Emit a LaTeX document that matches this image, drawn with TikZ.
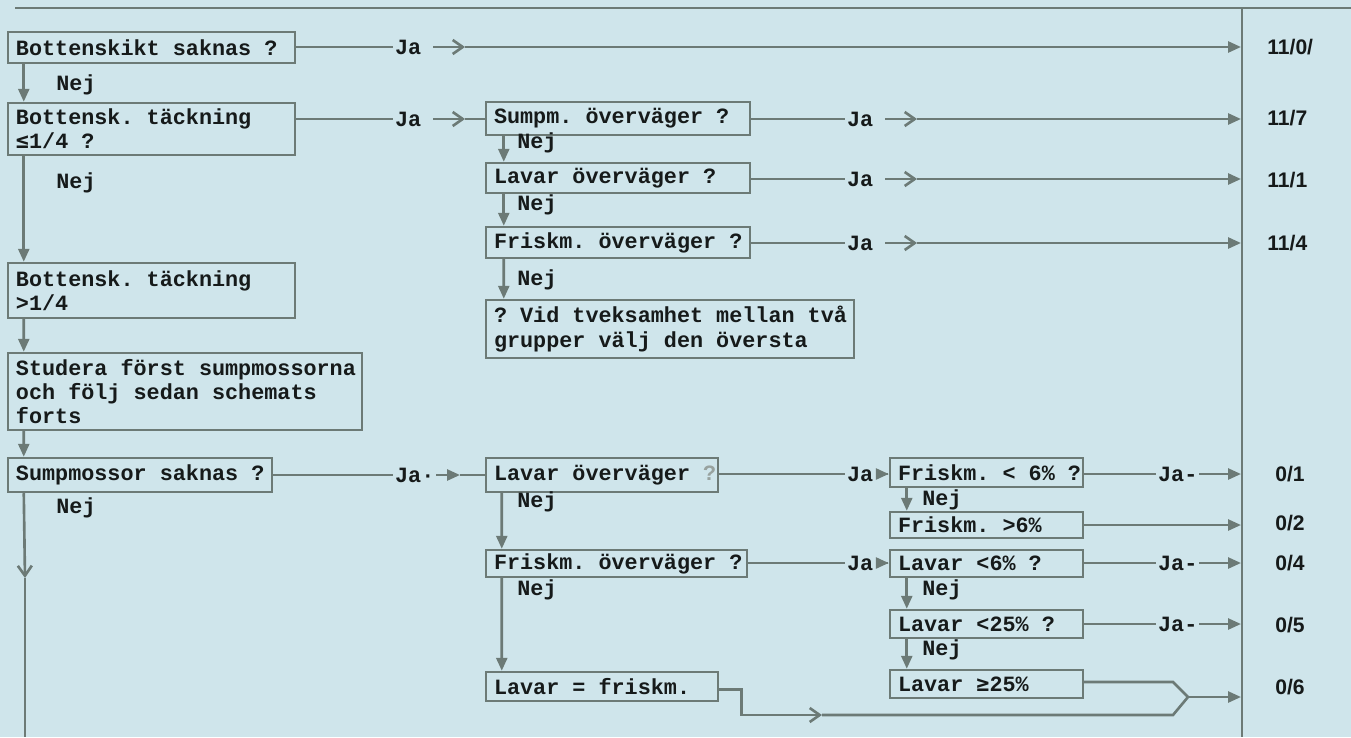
\documentclass[tikz,border=0pt]{standalone}
\usepackage{fontspec}
\usetikzlibrary{arrows.meta,calc}
\definecolor{bg}{RGB}{207,229,235}
\definecolor{lc}{RGB}{108,122,118}
\definecolor{tc}{RGB}{22,26,26}
\newfontfamily\boxf{Liberation Mono}
\newfontfamily\janf{Liberation Mono}
\newfontfamily\resf{Liberation Sans}
\newfontfamily\symf{DejaVu Sans Mono}
\newcommand\tws{\fontsize{12.4pt}{13.8pt}\selectfont}
\newcommand\sy[1]{{\symf\bfseries #1}}
\newcommand\tsp{\hbox to 0.6em{}}
\newcommand\mkbox[6]{%
  \pgfmathsetmacro\bxw{(#4-#2)*0.02}%
  \pgfmathsetmacro\bxh{(#5-#3)*0.02}%
  \pgfmathsetmacro\bxtw{(#4-#2)*0.02-0.32}%
  \pgfmathsetmacro\bxcx{(#2+#4)/2}%
  \pgfmathsetmacro\bxcy{(#3+#5)/2}%
  \node[bx, minimum width=\bxw cm, minimum height=\bxh cm, text width=\bxtw cm] (#1) at (\bxcx,\bxcy) {#6};%
}
\begin{document}
\begin{tikzpicture}[x=0.02cm,y=-0.02cm,
  bx/.style={draw=lc, line width=1.4pt, inner xsep=0.16cm, inner ysep=0pt, align=left, font=\boxf\bfseries\tws, text=tc},
  lab/.style={font=\janf\bfseries\tws, text=tc, inner sep=1pt},
  res/.style={font=\resf\bfseries\fontsize{12pt}{14pt}\selectfont, text=tc, anchor=west, inner sep=0pt},
  ln/.style={draw=lc, line width=1.5pt},
  arr/.style={ln, -{Triangle[length=0.26cm,width=0.22cm]}},
  chev/.style={ln, -{Straight Barb[length=0.2cm,width=0.28cm]}},
]
\fill[bg] (0,0) rectangle (1351,737);
\useasboundingbox (0,0) rectangle (1351,737);

% frame lines
\coordinate (tl) at (15,8);
\coordinate (tr) at (1351,8);
\coordinate (vt) at (1242,8);
\coordinate (vb) at (1242,737);
\draw[ln] (tl) -- (tr);
\draw[ln] (vt) -- (vb);

% boxes, left column
\mkbox{b1}{8}{32}{295}{63}{\mbox{Bottenskikt\tsp saknas\tsp ?}}
\mkbox{b2}{8}{103}{295}{155}{\mbox{Bottensk.\tsp täckning}\\\mbox{\sy{≤}1/4\tsp ?}}
\mkbox{b3}{8}{263}{295}{318}{\mbox{Bottensk.\tsp täckning}\\\mbox{>1/4}}
\mkbox{b4}{8}{353}{362}{430}{\mbox{Studera\tsp först\tsp sumpmossorna}\\\mbox{och\tsp följ\tsp sedan\tsp schemats}\\\mbox{forts}}
\mkbox{b5}{8}{458}{272}{492}{\mbox{Sumpmossor\tsp saknas\tsp ?}}
% middle column
\mkbox{m1}{486}{102}{750}{135}{\mbox{Sumpm.\tsp överväger\tsp ?}}
\mkbox{m2}{486}{163}{750}{193}{\mbox{Lavar\tsp överväger\tsp ?}}
\mkbox{m3}{486}{227}{750}{258}{\mbox{Friskm.\tsp överväger\tsp ?}}
\mkbox{m4}{486}{300}{854}{358}{\mbox{?\tsp Vid\tsp tveksamhet\tsp mellan\tsp två}\\\mbox{grupper\tsp välj\tsp den\tsp översta}}
\mkbox{m5}{486}{458}{718}{492}{\mbox{Lavar\tsp överväger\tsp {\color{lc!70}?}}}
\mkbox{m6}{486}{550}{747}{577}{\mbox{Friskm.\tsp överväger\tsp ?}}
\mkbox{m7}{486}{672}{718}{701}{\mbox{Lavar\tsp =\tsp friskm.}}
% right column
\mkbox{r1}{890}{458}{1083}{487}{\mbox{Friskm.\tsp <\tsp 6\%\tsp ?}}
\mkbox{r2}{890}{512}{1083}{538}{\mbox{Friskm.\tsp >6\%}}
\mkbox{r3}{890}{550}{1083}{577}{\mbox{Lavar\tsp <6\%\tsp ?}}
\mkbox{r4}{890}{610}{1083}{638}{\mbox{Lavar\tsp <25\%\tsp ?}}
\mkbox{r5}{890}{670}{1083}{698}{\mbox{Lavar\tsp \sy{≥}25\%}}

% Ja labels
\node[lab, anchor=west] (ja1) at (393,47) {Ja};
\node[lab, anchor=west] (ja2) at (393,119) {Ja};
\node[lab, anchor=west] (jm1) at (845,119) {Ja};
\node[lab, anchor=west] (jm2) at (845,179) {Ja};
\node[lab, anchor=west] (jm3) at (845,243) {Ja};
\node[lab, anchor=west] (ja5) at (393,475) {Ja·};
\node[lab, anchor=west] (jm5) at (845,474) {Ja·};
\node[lab, anchor=west] (jm6) at (845,563) {Ja·};
\node[lab, anchor=west] (jr1) at (1156,474) {Ja-};
\node[lab, anchor=west] (jr3) at (1156,563) {Ja-};
\node[lab, anchor=west] (jr4) at (1156,624) {Ja-};

% Nej labels
\node[lab] (n1) at (76,85) {Nej};
\node[lab] (n2) at (76,183) {Nej};
\node[lab] (n3) at (76,508) {Nej};
\node[lab] (nm1) at (537,143) {Nej};
\node[lab] (nm2) at (537,205) {Nej};
\node[lab] (nm3) at (537,280) {Nej};
\node[lab] (nm5) at (537,502) {Nej};
\node[lab] (nm6) at (537,590) {Nej};
\node[lab] (nr1) at (942,500) {Nej};
\node[lab] (nr3) at (942,590) {Nej};
\node[lab] (nr4) at (942,650) {Nej};

% result labels
\node[res] (res1) at (1267,47) {11/0/};
\node[res] (res2) at (1267,118) {11/7};
\node[res] (res3) at (1267,180) {11/1};
\node[res] (res4) at (1267,243) {11/4};
\node[res] (res5) at (1275,474) {0/1};
\node[res] (res6) at (1275,523) {0/2};
\node[res] (res7) at (1275,563) {0/4};
\node[res] (res8) at (1275,625) {0/5};
\node[res] (res9) at (1275,687) {0/6};

% coordinates
\coordinate (ch1) at (465,47);
\coordinate (ch2) at (465,119);
\coordinate (ch3) at (917,119);
\coordinate (ch4) at (917,179);
\coordinate (ch5) at (917,243);
\coordinate (chd) at (25,578);
\coordinate (lb) at (25,737);
\coordinate (ta5) at (460,475);
\coordinate (chb) at (822,715);
\coordinate (mg) at (1188,697);
\coordinate (e1) at (1241,47);
\coordinate (e2) at (1241,119);
\coordinate (e3) at (1241,179);
\coordinate (e4) at (1241,243);
\coordinate (e5) at (1241,474);
\coordinate (e6) at (1241,525);
\coordinate (e7) at (1241,563);
\coordinate (e8) at (1241,624);
\coordinate (e9) at (1241,697);

% left column vertical connectors
\draw[arr] ($(b1.south west)+(17,0)$) -- ($(b2.north west)+(17,0)$);
\draw[arr] ($(b2.south west)+(17,0)$) -- ($(b3.north west)+(17,0)$);
\draw[arr] ($(b3.south west)+(17,0)$) -- ($(b4.north west)+(17,0)$);
\draw[arr] ($(b4.south west)+(17,0)$) -- ($(b5.north west)+(17,0)$);
\draw[chev] ($(b5.south west)+(17,0)$) -- (chd);
\draw[ln] (chd) -- (lb);

% middle column vertical connectors
\draw[arr] ($(m1.south west)+(19,0)$) -- ($(m2.north west)+(19,0)$);
\draw[arr] ($(m2.south west)+(19,0)$) -- ($(m3.north west)+(19,0)$);
\draw[arr] ($(m3.south west)+(19,0)$) -- ($(m4.north west)+(19,0)$);
\draw[arr] ($(m5.south west)+(17,0)$) -- ($(m6.north west)+(17,0)$);
\draw[arr] ($(m6.south west)+(17,0)$) -- ($(m7.north west)+(17,0)$);

% right column vertical connectors
\draw[arr] ($(r1.south west)+(18,0)$) -- ($(r2.north west)+(18,0)$);
\draw[arr] ($(r3.south west)+(18,0)$) -- ($(r4.north west)+(18,0)$);
\draw[arr] ($(r4.south west)+(18,0)$) -- ($(r5.north west)+(18,0)$);

% row 1
\draw[ln] (b1.east |- ja1.west) -- (ja1.west);
\draw[chev, shorten <=0.2cm] (ja1.east) -- (ch1);
\draw[arr] (ch1) -- (e1);
% row 2
\draw[ln] (b2.east |- ja2.west) -- (ja2.west);
\draw[chev, shorten <=0.2cm] (ja2.east) -- (ch2);
\draw[ln] (ch2) -- (m1.west |- ch2);
\draw[ln] (m1.east |- jm1.west) -- (jm1.west);
\draw[chev, shorten <=0.2cm] (jm1.east) -- (ch3);
\draw[arr] (ch3) -- (e2);
% row 3
\draw[ln] (m2.east |- jm2.west) -- (jm2.west);
\draw[chev, shorten <=0.2cm] (jm2.east) -- (ch4);
\draw[arr] (ch4) -- (e3);
% row 4
\draw[ln] (m3.east |- jm3.west) -- (jm3.west);
\draw[chev, shorten <=0.2cm] (jm3.east) -- (ch5);
\draw[arr] (ch5) -- (e4);

% lower part
\draw[ln] (b5.east |- ja5.west) -- (ja5.west);
\draw[arr] (ja5.east) -- (ta5);
\draw[ln] (ta5) -- (m5.west |- ta5);
\draw[ln] (m5.east |- jm5.west) -- (jm5.west);
\draw[arr] (jm5.east) -- (r1.west |- jm5.east);
\draw[ln] (m6.east |- jm6.west) -- (jm6.west);
\draw[arr] (jm6.east) -- (r3.west |- jm6.east);

\draw[ln] (r1.east |- jr1.west) -- (jr1.west);
\draw[arr] (jr1.east) -- (e5);
\draw[arr] (r2.east |- e6) -- (e6);
\draw[ln] (r3.east |- jr3.west) -- (jr3.west);
\draw[arr] (jr3.east) -- (e7);
\draw[ln] (r4.east |- jr4.west) -- (jr4.west);
\draw[arr] (jr4.east) -- (e8);

% merge to 0/6
\draw[chev] ($(m7.east)+(0,3)$) -- ++(22,0) |- (chb);
\draw[ln, line join=miter] (chb) -- (1173,715) -- (mg);
\draw[ln, line join=miter] ($(r5.east)+(0,-2)$) -- (1173,682) -- (mg);
\draw[arr] (mg) -- (e9);
\end{tikzpicture}
\end{document}
